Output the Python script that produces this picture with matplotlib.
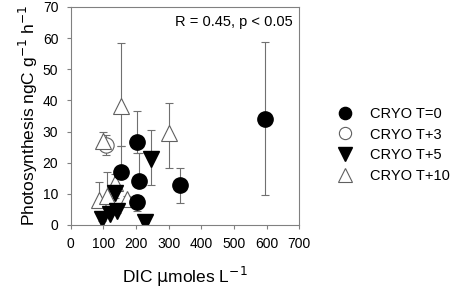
import matplotlib.pyplot as plt
import numpy as np

plt.rcParams['font.family'] = ['Liberation Sans', 'DejaVu Sans']

# CRYO T=0 (filled circles)
t0_x = [595, 203, 153, 208, 334, 203]
t0_y = [34.1, 26.5, 17.1, 14.1, 12.7, 7.3]
t0_lo = [24.4, 3.5, 2.0, 2.0, 5.6, 2.9]
t0_hi = [24.5, 10.0, 8.3, 9.1, 5.7, 2.2]

# CRYO T+3 (open circles)
t3_x = [108]
t3_y = [25.7]
t3_lo = [3.2]
t3_hi = [3.3]

# CRYO T+5 (filled down triangles)
t5_x = [245, 134, 95, 119, 142, 228]
t5_y = [21.2, 10.3, 1.9, 3.6, 4.4, 0.9]
t5_lo = [8.5, 1.5, 0.5, 0.5, 0.5, 0.3]
t5_hi = [9.4, 1.5, 0.5, 0.5, 0.5, 0.3]

# CRYO T+10 (open up triangles)
t10_x = [153, 302, 100, 134, 87, 110, 172]
t10_y = [38.3, 29.5, 26.8, 13.5, 8.1, 9.2, 8.4]
t10_lo = [12.8, 11.1, 2.0, 2.0, 1.0, 1.5, 1.0]
t10_hi = [20.0, 9.6, 3.2, 3.0, 5.7, 7.8, 1.0]

fig = plt.figure(figsize=(4.54, 2.98), dpi=100)
ax = fig.add_axes([0.156, 0.245, 0.503, 0.732])

err_style = dict(ecolor='#707070', elinewidth=0.8, capsize=3, capthick=0.8, linestyle='none')
ms = 11
ax.errorbar(t3_x, t3_y, yerr=[t3_lo, t3_hi], marker='o', ms=ms, mfc='white', mec='#606060', mew=0.8, label='CRYO T+3', **err_style)
ax.errorbar(t10_x, t10_y, yerr=[t10_lo, t10_hi], marker='^', ms=ms + 1, mfc='white', mec='#606060', mew=0.8, label='CRYO T+10', **err_style)
ax.errorbar(t5_x, t5_y, yerr=[t5_lo, t5_hi], marker='v', ms=ms + 1, mfc='black', mec='black', label='CRYO T+5', **err_style)
ax.errorbar(t0_x, t0_y, yerr=[t0_lo, t0_hi], marker='o', ms=ms, mfc='black', mec='black', label='CRYO T=0', **err_style)

ax.set_xlim(0, 700)
ax.set_ylim(0, 70)
ax.set_xticks(np.arange(0, 701, 100))
ax.set_yticks(np.arange(0, 71, 10))
ax.tick_params(direction='out', length=3, width=0.8, color='#808080', labelsize=10, pad=6)
for s in ax.spines.values():
    s.set_color('#808080')
    s.set_linewidth(0.8)

ax.set_xlabel('DIC $\\mathrm{\\mu}$moles L$^{-1}$', fontsize=12.5, labelpad=10)
ax.set_ylabel('Photosynthesis ngC g$^{-1}$ h$^{-1}$', fontsize=12.5, labelpad=2)
ax.text(0.97, 0.93, 'R = 0.45, p < 0.05', transform=ax.transAxes, ha='right', va='center', fontsize=10.5)

h, l = ax.get_legend_handles_labels()
order = [3, 0, 2, 1]
fig.legend([h[i][0] for i in order], [l[i] for i in order], loc='upper left',
           bbox_to_anchor=(0.715, 0.685), frameon=False, fontsize=10.5,
           handletextpad=1.2, labelspacing=0.45, handlelength=1.0, markerscale=0.8)

fig.savefig('out.png', dpi=100)
